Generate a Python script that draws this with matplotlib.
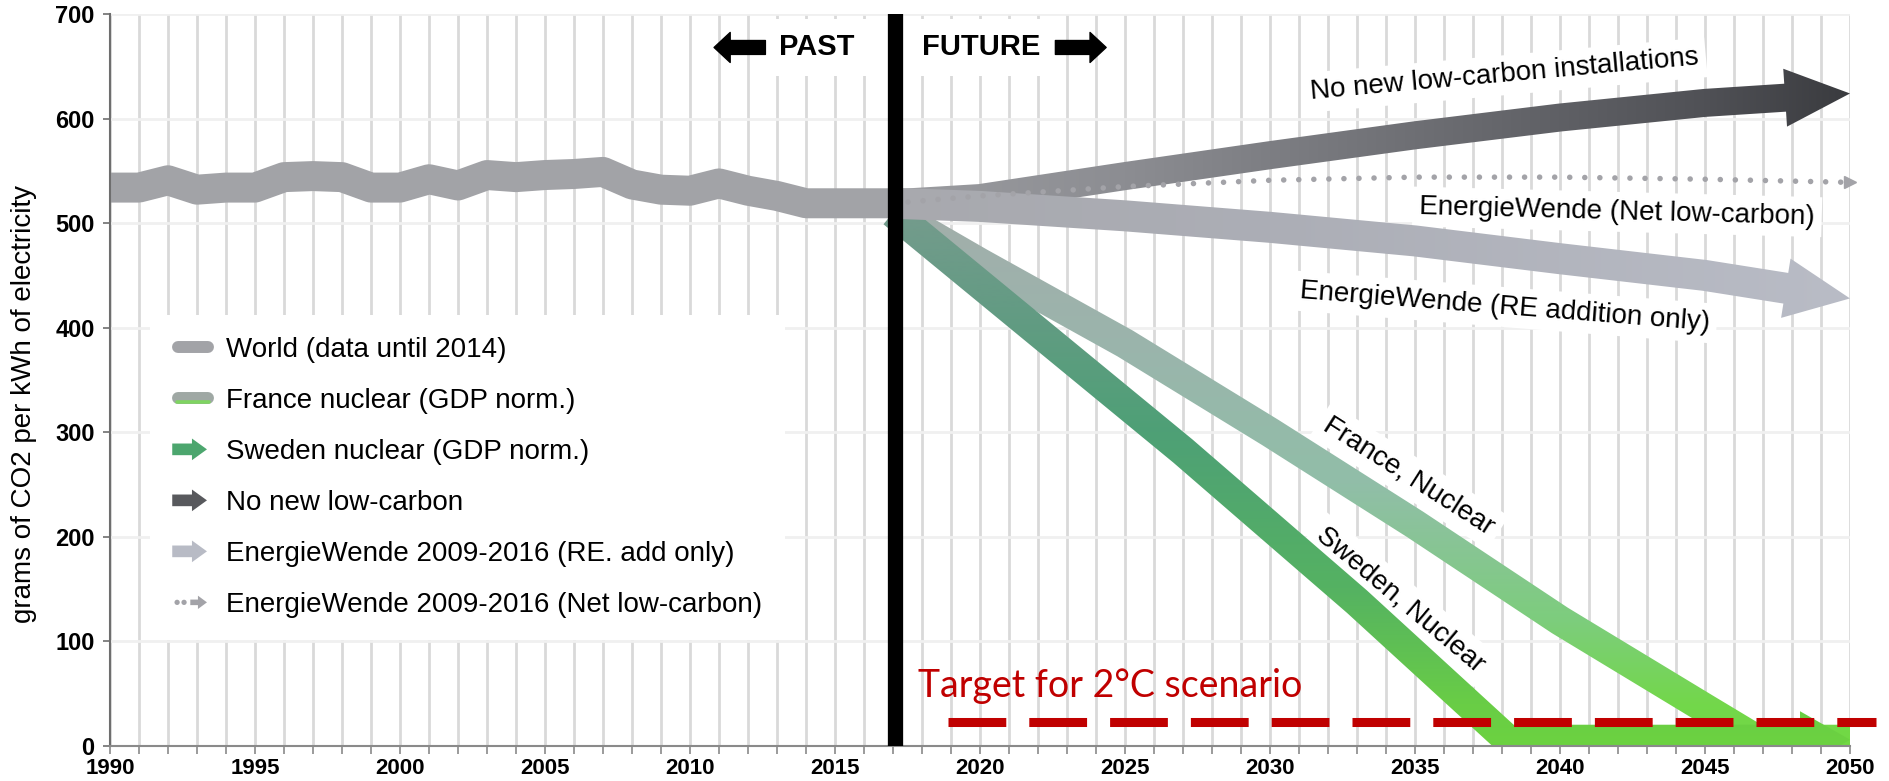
import numpy as np
import matplotlib
matplotlib.use('Agg')
import matplotlib.pyplot as plt
from matplotlib.patches import Polygon, Circle
from matplotlib.lines import Line2D
from matplotlib.legend_handler import HandlerBase
from matplotlib.ticker import MultipleLocator

plt.rcParams['font.family'] = ['Liberation Sans', 'DejaVu Sans']

# world average (past)
world_years = list(range(1990, 2018))
world_vals = [534, 534, 541, 532, 534, 534, 544, 545, 544, 534, 534, 542, 536, 546,
              544, 546, 547, 549, 537, 532, 531, 538, 531, 526, 519, 519, 519, 519]

# scenarios (future)
scen_years = [2017, 2020, 2025, 2030, 2035, 2040, 2045, 2050]
no_new_vals = [519, 524, 545, 565, 584, 601, 615, 624]
ew_re_vals = [519, 516, 507, 496, 483, 466, 450, 428]
ew_net_vals = [519, 526, 535, 541, 544, 544, 542, 539]

france_years = [2017, 2020, 2025, 2030, 2035, 2040, 2045, 2046.8, 2050]
france_vals = [510, 462, 385, 300, 212, 120, 36, 6, 6]
sweden_years = [2017, 2022, 2027, 2033, 2038.2, 2050]
sweden_vals = [510, 396, 282, 138, 6, 6]

now_year = 2017
target_years = [2018.9, 2050.9]
target_val = 23

legend_labels = ['World (data until 2014)', 'France nuclear (GDP norm.)',
                 'Sweden nuclear (GDP norm.)', 'No new low-carbon',
                 'EnergieWende 2009-2016 (RE. add only)',
                 'EnergieWende 2009-2016 (Net low-carbon)']

fig = plt.figure(figsize=(18.9, 7.81), dpi=100)
ax = fig.add_axes([110 / 1890, 35 / 781, 1740 / 1890, 732 / 781])
ax.set_xlim(1990, 2050)
ax.set_ylim(0, 700)
ax.set_autoscale_on(False)


def band_outline(xs, ys, w, head_w=0, head_l=0):
    # outline of a thick polyline (widths in pixels), returned in data coords
    P = ax.transData.transform(np.column_stack([xs, ys]).astype(float))
    tip = P[-1].copy()
    if head_l:
        d = P[-1] - P[-2]
        d = d / np.hypot(*d)
        P[-1] = tip - d * head_l
    seg = np.diff(P, axis=0)
    seg = seg / np.hypot(seg[:, 0], seg[:, 1])[:, None]
    nrm = np.column_stack([-seg[:, 1], seg[:, 0]])
    vn = np.zeros_like(P)
    vn[0] = nrm[0]
    vn[-1] = nrm[-1]
    for i in range(1, len(P) - 1):
        m = nrm[i - 1] + nrm[i]
        m = m / np.hypot(*m)
        vn[i] = m / np.dot(m, nrm[i])
    left = P + vn * w / 2
    right = P - vn * w / 2
    pts = list(left)
    if head_l:
        n = nrm[-1]
        pts += [P[-1] + n * head_w / 2, tip, P[-1] - n * head_w / 2]
    pts += list(right[::-1])
    return ax.transData.inverted().transform(np.array(pts))


def gradient_fill(poly, stops, rgbs, axis, zorder):
    patch = Polygon(poly, closed=True, fc='none', ec='none')
    ax.add_patch(patch)
    x0, y0 = poly.min(axis=0)
    x1, y1 = poly.max(axis=0)
    rgbs = np.array(rgbs, float) / 255
    if axis == 'x':
        t = np.linspace(x0, x1, 300)
        img = np.stack([np.interp(t, stops, rgbs[:, k]) for k in range(3)], -1)[None, :, :]
    else:
        t = np.linspace(y0, y1, 300)
        img = np.stack([np.interp(t, stops, rgbs[:, k]) for k in range(3)], -1)[:, None, :]
    im = ax.imshow(img, extent=(x0, x1, y0, y1), origin='lower', aspect='auto',
                   interpolation='bilinear', zorder=zorder)
    im.set_clip_path(patch)


# grid and axes styling
ax.xaxis.set_major_locator(MultipleLocator(5))
ax.xaxis.set_minor_locator(MultipleLocator(1))
ax.yaxis.set_major_locator(MultipleLocator(100))
ax.grid(True, which='both', axis='x', color='#d9d9d9', lw=2.0)
ax.grid(True, which='major', axis='y', color='#f0f0f0', lw=2.0)
ax.set_axisbelow(True)
for s in ['top', 'right']:
    ax.spines[s].set_visible(False)
ax.spines['left'].set_color('#6e6e6e')
ax.spines['left'].set_linewidth(1.5)
ax.spines['bottom'].set_color('#8a8a8a')
ax.spines['bottom'].set_linewidth(1.5)
ax.tick_params(axis='x', which='both', direction='out', length=6, color='#8a8a8a', width=1.2, pad=3)
ax.tick_params(axis='y', which='major', direction='out', length=5, color='#6e6e6e', width=1.2, pad=6)
for lab in ax.get_xticklabels():
    lab.set_fontweight('bold')
    lab.set_fontsize(16)
for lab in ax.get_yticklabels():
    lab.set_fontweight('bold')
    lab.set_fontsize(17)
ax.set_ylabel('grams of CO2 per kWh of electricity', fontsize=20)
ax.yaxis.set_label_coords(-0.042, 0.467)

# future scenarios
gradient_fill(band_outline(france_years, france_vals, 30),
              [-30, 40, 120, 250, 390, 560],
              [(112, 218, 62), (115, 215, 75), (125, 205, 125), (145, 190, 168),
               (155, 180, 172), (165, 172, 170)], 'y', 2.0)
gradient_fill(band_outline(sweden_years, sweden_vals, 30, head_w=57, head_l=50),
              [-30, 40, 150, 300, 420, 560],
              [(110, 214, 60), (105, 205, 70), (85, 178, 98), (78, 160, 118),
               (100, 155, 132), (125, 155, 145)], 'y', 2.1)
gradient_fill(band_outline(scen_years, no_new_vals, 28, head_w=58, head_l=65),
              [2017, 2025, 2035, 2045, 2050],
              [(155, 156, 160), (140, 141, 146), (110, 111, 116), (80, 81, 86), (58, 59, 63)],
              'x', 2.2)
gradient_fill(band_outline(scen_years, ew_re_vals, 31, head_w=60, head_l=65),
              [2017, 2030, 2050],
              [(168, 169, 174), (172, 174, 182), (185, 188, 198)], 'x', 2.3)

ax.plot(world_years, world_vals, color='#a2a3a7', lw=21.6, solid_capstyle='butt', zorder=2.4)

ax.plot(scen_years, ew_net_vals, color='#a3a3a8', lw=4.0, ls=(0, (0.01, 2.7)),
        dash_capstyle='round', zorder=2.6)
ax.plot(scen_years[-1:], ew_net_vals[-1:], color='#a3a3a8', marker='>', ms=9, ls='none',
        zorder=2.6, clip_on=False)

ax.axvline(now_year + 0.07, color='black', lw=11, zorder=4)

ax.plot(target_years, [target_val, target_val], color='#c00000', lw=6.5,
        ls=(0, (6.4, 2.55)), zorder=4.5, clip_on=False)
ax.text(2017.86, 47, 'Target for 2°C scenario', color='#c00000', fontsize=27,
        family=['Lato', 'DejaVu Sans'], ha='left', va='baseline', zorder=4.5)

# labels on the chart
box = dict(boxstyle='square,pad=0.25', fc='white', ec='none')
for x, y, s, rot in [(2038.1, 641.5, 'No new low-carbon installations', 5.1),
                     (2041.97, 510.8, 'EnergieWende (Net low-carbon)', -1.5),
                     (2038.1, 419.7, 'EnergieWende (RE addition only)', -4.5),
                     (2034.8, 258, 'France, Nuclear', -32.5),
                     (2034.5, 139.6, 'Sweden, Nuclear', -40)]:
    ax.text(x, y, s, fontsize=20, rotation=rot, rotation_mode='anchor',
            ha='center', va='center', bbox=box, zorder=1.5)

pbox = dict(boxstyle='square,pad=0.5', fc='white', ec='none')
ax.text(2014.36, 668, 'PAST', fontsize=21, fontweight='bold', ha='center', va='center',
        bbox=pbox, zorder=1.5)
ax.text(2020.03, 668, 'FUTURE', fontsize=21, fontweight='bold', ha='center', va='center',
        bbox=pbox, zorder=1.5)
astyle = 'simple,head_length=0.58,head_width=1.08,tail_width=0.5'
ax.annotate('', xy=(2010.83, 668), xytext=(2012.6, 668),
            arrowprops=dict(arrowstyle=astyle, color='black', mutation_scale=20,
                            shrinkA=0, shrinkB=0), zorder=3)
ax.annotate('', xy=(2024.35, 668), xytext=(2022.6, 668),
            arrowprops=dict(arrowstyle=astyle, color='black', mutation_scale=20,
                            shrinkA=0, shrinkB=0), zorder=3)


# legend with custom icons
class IconHandler(HandlerBase):
    def __init__(self, kind, colors):
        super().__init__()
        self.kind = kind
        self.colors = colors

    def create_artists(self, legend, orig_handle, xdescent, ydescent, width, height,
                       fontsize, trans):
        x0, cy = -xdescent, -ydescent + height / 2
        arts = []
        if self.kind == 'bar':
            arts.append(Line2D([x0 + 4.3, x0 + width - 4.3], [cy, cy], lw=8.6,
                               color=self.colors[0], solid_capstyle='round', transform=trans))
            if len(self.colors) > 1:
                arts.append(Line2D([x0 + 3.5, x0 + width - 3.5], [cy - 2.8, cy - 2.8], lw=2.6,
                                   color=self.colors[1], solid_capstyle='round', transform=trans))
        elif self.kind == 'arrow':
            L, hl, sh, hh = 25, 10.8, 4.2, 7.8
            pts = [(x0, cy + sh), (x0 + L - hl, cy + sh), (x0 + L - hl, cy + hh), (x0 + L, cy),
                   (x0 + L - hl, cy - hh), (x0 + L - hl, cy - sh), (x0, cy - sh)]
            arts.append(Polygon(pts, closed=True, fc=self.colors[0], ec='none', transform=trans))
        else:
            for dx in (3.5, 8.5):
                arts.append(Circle((x0 + dx, cy), 1.9, fc=self.colors[0], ec='none',
                                   transform=trans))
            xa, L, hl, sh, hh = x0 + 13, 12, 6.5, 2.0, 4.8
            pts = [(xa, cy + sh), (xa + L - hl, cy + sh), (xa + L - hl, cy + hh), (xa + L, cy),
                   (xa + L - hl, cy - hh), (xa + L - hl, cy - sh), (xa, cy - sh)]
            arts.append(Polygon(pts, closed=True, fc=self.colors[0], ec='none', transform=trans))
        return arts


handles = [Line2D([], []) for _ in legend_labels]
handler_map = {
    handles[0]: IconHandler('bar', ['#a2a3a7']),
    handles[1]: IconHandler('bar', ['#9fa8a4', '#7fd462']),
    handles[2]: IconHandler('arrow', ['#4ca66e']),
    handles[3]: IconHandler('arrow', ['#58595d']),
    handles[4]: IconHandler('arrow', ['#b8bbc5']),
    handles[5]: IconHandler('dots', ['#a3a3a8']),
}
leg = ax.legend(handles, legend_labels, handler_map=handler_map, loc='upper left',
                bbox_to_anchor=(0.023, 0.589), borderaxespad=0, frameon=True,
                fancybox=False, edgecolor='none', facecolor='white', framealpha=1,
                fontsize=20, handlelength=1.5, handletextpad=0.45, labelspacing=0.9,
                borderpad=0.8)
leg.set_zorder(5)

fig.savefig('out.png', dpi=100)
